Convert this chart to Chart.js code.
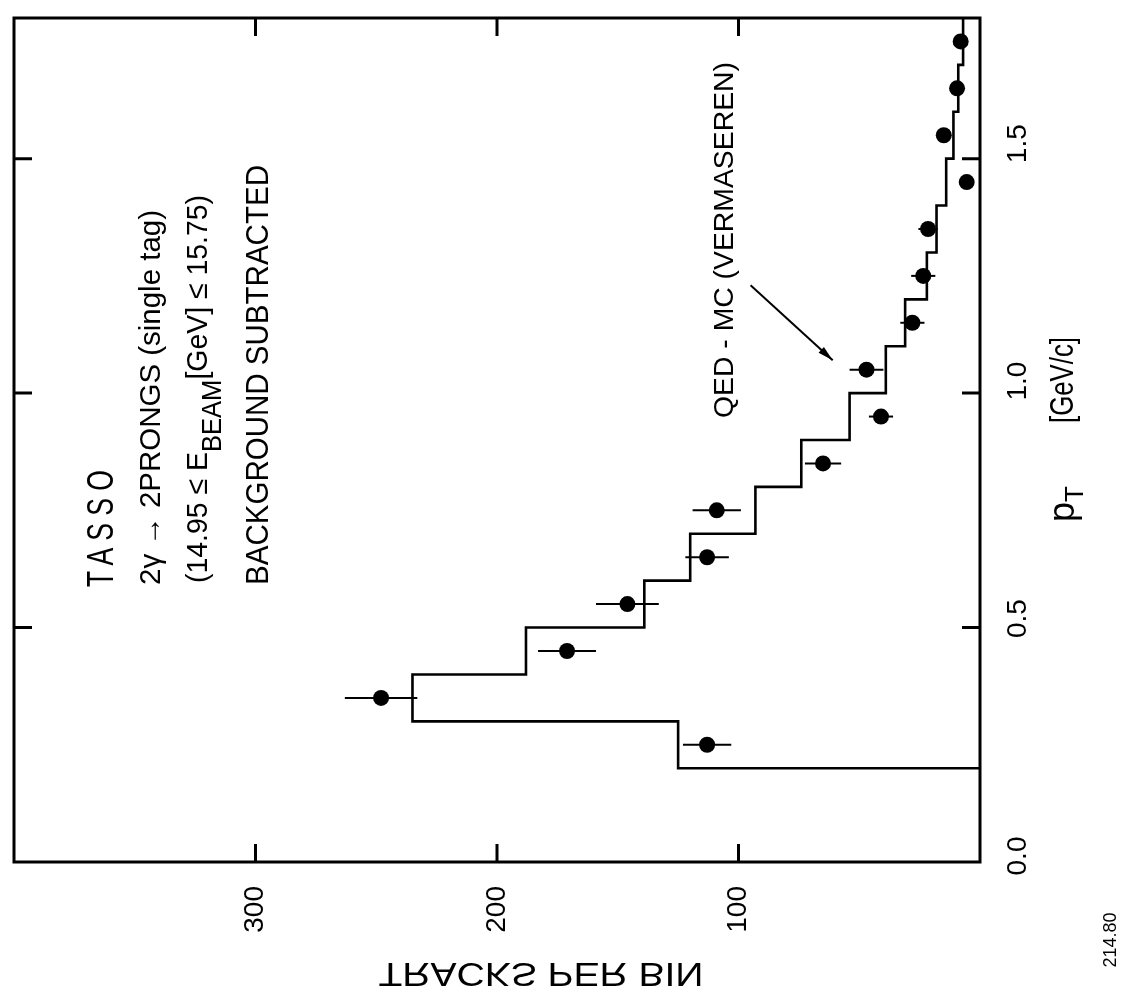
<!DOCTYPE html>
<html>
<head>
<meta charset="utf-8">
<script src="https://cdn.jsdelivr.net/npm/chart.js@4.4.0/dist/chart.umd.min.js"></script>
<style>
html, body { margin: 0; padding: 0; background: #fff; }
#wrap { width: 1125px; height: 1002px; }
</style>
</head>
<body>
<div id="wrap"><canvas id="chart" width="1125" height="1002"></canvas></div>
<script>
// TASSO 2-prong pT spectrum (figure is printed turned on its side)
const binLow = [0.2, 0.3, 0.4, 0.5, 0.6, 0.7, 0.8, 0.9, 1.0, 1.1, 1.2, 1.3, 1.4, 1.5, 1.6, 1.7];
const binWidth = 0.1;
const mcCounts = [125, 235, 188, 139, 120, 93, 74, 54, 39, 31, 22, 18, 14, 11, 9, 7];

const dataPt = [0.25, 0.35, 0.45, 0.55, 0.65, 0.75, 0.85, 0.95, 1.05, 1.15, 1.25, 1.35, 1.45, 1.55, 1.65, 1.75];
const dataCounts = [113, 248, 171, 146, 113, 109, 65, 41, 47, 28, 23.5, 21.5, 5.5, 15, 9.5, 8];
const dataErr = [10, 15, 12, 13, 9, 10, 7.5, 5, 7, 5, 5, 4, 2, 2, 2, 2];

const pTTicks = [0, 0.5, 1.0, 1.5];
const pTTickLabels = ['0.0', '0.5', '1.0', '1.5'];
const trackTicks = [100, 200, 300];

const FONT = '"Liberation Sans", Arial, sans-serif';

// histogram outline, starting from zero below the first bin
function buildSteps() {
    const pts = [{ x: 0, y: binLow[0] }];
    binLow.forEach((lo, i) => {
        pts.push({ x: mcCounts[i], y: lo });
        pts.push({ x: mcCounts[i], y: lo + binWidth });
    });
    return pts;
}

// text turned -90deg, reading bottom to top; parts = [{t, size, dy}]
function vText(ctx, parts, x, y, len, align) {
    ctx.save();
    ctx.translate(x, y);
    ctx.rotate(-Math.PI / 2);
    let total = 0;
    parts.forEach(p => {
        ctx.font = p.size + 'px ' + FONT;
        ctx.letterSpacing = p.ls || '0px';
        p.w = ctx.measureText(p.t).width;
        total += p.w;
    });
    const sx = len ? len / total : 1;
    ctx.scale(sx, 1);
    let pos = 0;
    if (align === 'right') pos = -total;
    if (align === 'center') pos = -total / 2;
    ctx.textAlign = 'left';
    ctx.textBaseline = 'middle';
    ctx.fillStyle = '#000';
    parts.forEach(p => {
        ctx.font = p.size + 'px ' + FONT;
        ctx.letterSpacing = p.ls || '0px';
        ctx.fillText(p.t, pos, p.dy || 0);
        pos += p.w;
    });
    ctx.restore();
}

const errorBars = {
    id: 'errorBars',
    afterDatasetsDraw(chart) {
        const { ctx, scales: { x, y } } = chart;
        ctx.save();
        ctx.strokeStyle = '#000';
        ctx.lineWidth = 2;
        dataPt.forEach((pt, i) => {
            const py = y.getPixelForValue(pt);
            ctx.beginPath();
            ctx.moveTo(x.getPixelForValue(dataCounts[i] - dataErr[i]), py);
            ctx.lineTo(x.getPixelForValue(dataCounts[i] + dataErr[i]), py);
            ctx.stroke();
        });
        ctx.restore();
    }
};

const frameAndText = {
    id: 'frameAndText',
    afterDraw(chart) {
        const { ctx, chartArea: a, scales: { x, y } } = chart;
        ctx.save();
        ctx.strokeStyle = '#000';
        ctx.lineWidth = 3;
        ctx.strokeRect(a.left, a.top, a.right - a.left, a.bottom - a.top);

        // inward ticks on all four sides
        const tl = 18;
        ctx.beginPath();
        pTTicks.forEach(v => {
            if (v === 0) return;
            const py = y.getPixelForValue(v);
            ctx.moveTo(a.right, py); ctx.lineTo(a.right - tl, py);
            ctx.moveTo(a.left, py); ctx.lineTo(a.left + tl, py);
        });
        trackTicks.forEach(v => {
            const px = x.getPixelForValue(v);
            ctx.moveTo(px, a.bottom); ctx.lineTo(px, a.bottom - tl);
            ctx.moveTo(px, a.top); ctx.lineTo(px, a.top + tl);
        });
        ctx.stroke();

        // tick labels
        pTTicks.forEach((v, i) => {
            vText(ctx, [{ t: pTTickLabels[i], size: 28 }], a.right + 38, y.getPixelForValue(v) - 6 - v * 6, 0, 'center');
        });
        trackTicks.forEach(v => {
            vText(ctx, [{ t: String(v), size: 28 }], x.getPixelForValue(v), a.bottom + 24, 0, 'right');
        });

        // axis titles
        vText(ctx, [{ t: 'p', size: 36 }, { t: 'T', size: 26, dy: 12 }], a.right + 84, 522, 0, 'left');
        vText(ctx, [{ t: '[GeV/c]', size: 34 }], a.right + 84, 423, 86, 'left');

        ctx.save();
        ctx.translate(541, 972);
        ctx.font = '33px ' + FONT;
        const tw = ctx.measureText('TRACKS PER BIN').width;
        ctx.scale(325 / tw, -1);
        ctx.textAlign = 'center';
        ctx.textBaseline = 'middle';
        ctx.fillStyle = '#000';
        ctx.fillText('TRACKS PER BIN', 0, 0);
        ctx.restore();

        vText(ctx, [{ t: '214.80', size: 18 }], 1111, 940, 0, 'center');

        // annotations inside the frame
        vText(ctx, [{ t: 'TASSO', size: 37, ls: '10px' }], 103, 587, 124, 'left');
        vText(ctx, [{ t: '2γ → 2PRONGS (single tag)', size: 30 }], 152, 585, 375, 'left');
        vText(ctx, [
            { t: '(14.95 ≤ E', size: 30 },
            { t: 'BEAM', size: 27, dy: 15 },
            { t: '[GeV] ≤ 15.75)', size: 30 }
        ], 199, 583, 388, 'left');
        vText(ctx, [{ t: 'BACKGROUND SUBTRACTED', size: 32 }], 259, 585, 420, 'left');
        vText(ctx, [{ t: 'QED - MC (VERMASEREN)', size: 28 }], 725, 418, 356, 'left');

        // arrow pointing at the histogram
        const x0 = x.getPixelForValue(95), y0 = y.getPixelForValue(1.23);
        const x1 = x.getPixelForValue(61), y1 = y.getPixelForValue(1.07);
        ctx.lineWidth = 2;
        ctx.beginPath();
        ctx.moveTo(x0, y0); ctx.lineTo(x1, y1);
        ctx.stroke();
        const ang = Math.atan2(y1 - y0, x1 - x0);
        ctx.beginPath();
        ctx.moveTo(x1, y1);
        ctx.lineTo(x1 - 16 * Math.cos(ang - 0.25), y1 - 16 * Math.sin(ang - 0.25));
        ctx.lineTo(x1 - 16 * Math.cos(ang + 0.25), y1 - 16 * Math.sin(ang + 0.25));
        ctx.closePath();
        ctx.fillStyle = '#000';
        ctx.fill();
        ctx.restore();
    }
};

new Chart(document.getElementById('chart'), {
    type: 'scatter',
    data: {
        datasets: [
            {
                label: 'QED-MC',
                data: buildSteps(),
                showLine: true,
                borderColor: '#000',
                borderWidth: 2.6,
                pointRadius: 0,
                fill: false,
                tension: 0
            },
            {
                label: 'data',
                data: dataPt.map((pt, i) => ({ x: dataCounts[i], y: pt })),
                pointRadius: 8,
                pointBackgroundColor: '#000',
                pointBorderWidth: 0
            }
        ]
    },
    options: {
        responsive: false,
        animation: false,
        devicePixelRatio: 1,
        layout: { padding: { left: 14, top: 18, right: 145, bottom: 140 } },
        scales: {
            x: { type: 'linear', min: 0, max: 400, reverse: true, display: false },
            y: { type: 'linear', min: 0, max: 1.8, display: false }
        },
        plugins: { legend: { display: false }, tooltip: { enabled: false } }
    },
    plugins: [errorBars, frameAndText]
});
</script>
</body>
</html>
